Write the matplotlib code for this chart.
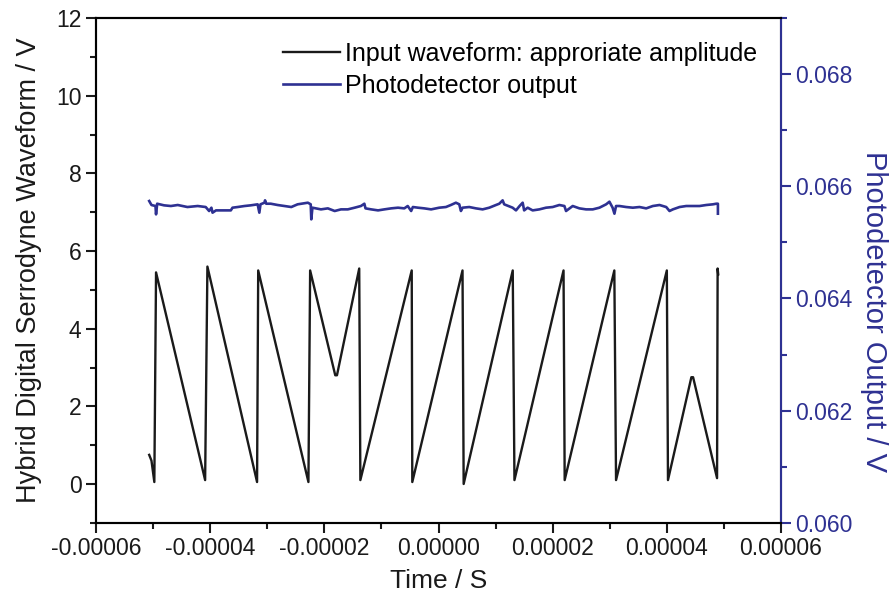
import numpy as np
import matplotlib
matplotlib.use("Agg")
import matplotlib.pyplot as plt
from matplotlib.ticker import MultipleLocator, FormatStrFormatter

plt.rcParams['font.family'] = ['Liberation Sans', 'DejaVu Sans']

# Input waveform vertices (time in microseconds, volts)
wave_t_us = [-50.7, -50.3, -49.8, -49.5, -40.9, -40.5, -31.8, -31.6, -22.8, -22.5,
             -18.1, -17.8, -13.9, -13.7, -4.7, -4.6, 4.2, 4.4, 13.0, 13.3,
             21.9, 22.1, 30.8, 31.1, 40.0, 40.2, 44.3, 44.6, 48.8, 48.9, 49.0]
wave_v = [0.75, 0.6, 0.05, 5.45, 0.1, 5.6, 0.05, 5.5, 0.05, 5.5,
          2.8, 2.8, 5.55, 0.1, 5.5, 0.05, 5.5, 0.0, 5.5, 0.1,
          5.5, 0.1, 5.5, 0.1, 5.5, 0.1, 2.75, 2.75, 0.15, 5.55, 5.4]

# Photodetector output (time in microseconds, volts)
pd_t_us = [-50.7, -50.3, -49.6, -49.5, -49.3, -48.1, -46.9, -45.7, -44.0, -42.2,
           -40.8, -40.2, -39.8, -39.6, -39.0, -38.1, -36.4, -36.1, -35.2, -34.0,
           -32.9, -31.7, -31.4, -31.2, -30.5, -30.4, -30.2, -29.4, -28.2, -27.0,
           -25.8, -24.7, -22.9, -22.4, -22.3, -22.1, -20.6, -19.4, -18.2, -17.1,
           -15.9, -14.7, -13.6, -13.0, -12.8, -11.8, -10.6, -9.5, -8.3, -7.1,
           -6.0, -5.4, -4.8, -4.5, -3.6, -2.5, -1.3, 0.12, 1.29, 2.16,
           3.04, 3.63, 3.92, 4.21, 5.38, 6.55, 7.72, 8.89, 10.06, 10.64,
           11.23, 11.5, 12.98, 13.57, 14.2, 14.74, 15.0, 15.61, 16.49, 17.66,
           18.83, 20.0, 21.17, 22.05, 22.34, 23.51, 24.68, 25.85, 27.02, 28.19,
           29.36, 29.94, 30.5, 30.82, 31.1, 31.7, 32.87, 34.04, 35.21, 36.38,
           37.55, 38.72, 39.89, 40.47, 41.06, 42.23, 43.4, 44.57, 45.74, 46.91,
           48.08, 48.66, 48.95, 48.95]
pd_v = [0.065738, 0.065667, 0.065649, 0.065500, 0.065690, 0.065661, 0.065649, 0.065667, 0.065631, 0.065649,
        0.065631, 0.065560, 0.065619, 0.065530, 0.065571, 0.065571, 0.065571, 0.065619, 0.065631, 0.065649,
        0.065661, 0.065679, 0.065530, 0.065679, 0.065708, 0.065750, 0.065690, 0.065690, 0.065667, 0.065649,
        0.065631, 0.065679, 0.065708, 0.065679, 0.065411, 0.065619, 0.065589, 0.065607, 0.065560, 0.065589,
        0.065589, 0.065619, 0.065649, 0.065690, 0.065607, 0.065589, 0.065571, 0.065589, 0.065607, 0.065619,
        0.065607, 0.065649, 0.065560, 0.065631, 0.065619, 0.065607, 0.065589, 0.065619, 0.065631, 0.065667,
        0.065708, 0.065679, 0.065560, 0.065619, 0.065631, 0.065607, 0.065589, 0.065619, 0.065667, 0.065690,
        0.065750, 0.065679, 0.065619, 0.065571, 0.065649, 0.065708, 0.065571, 0.065619, 0.065571, 0.065589,
        0.065619, 0.065631, 0.065667, 0.065649, 0.065560, 0.065649, 0.065607, 0.065589, 0.065589, 0.065619,
        0.065679, 0.065726, 0.065619, 0.065512, 0.065649, 0.065649, 0.065631, 0.065619, 0.065631, 0.065607,
        0.065649, 0.065667, 0.065631, 0.065560, 0.065589, 0.065631, 0.065649, 0.065649, 0.065649, 0.065667,
        0.065679, 0.065690, 0.065690, 0.065512]

wave_t = np.array(wave_t_us) * 1e-6
pd_t = np.array(pd_t_us) * 1e-6

blue = '#2E3192'
black = '#1a1a1a'

fig = plt.figure(figsize=(8.9, 6.03), dpi=100)
ax1 = fig.add_axes([0.108, 0.133, 0.7695, 0.837])
ax2 = ax1.twinx()

l1, = ax1.plot(wave_t, wave_v, color=black, lw=1.7, label='Input waveform: approriate amplitude')
l2, = ax2.plot(pd_t, pd_v, color=blue, lw=1.9, label='Photodetector output')

ax1.set_xlim(-0.00006, 0.00006)
ax1.set_ylim(-1, 12)
ax2.set_ylim(0.060, 0.069)

ax1.xaxis.set_major_locator(MultipleLocator(0.00002))
ax1.xaxis.set_minor_locator(MultipleLocator(0.00001))
ax1.xaxis.set_major_formatter(FormatStrFormatter('%.5f'))
ax1.yaxis.set_major_locator(MultipleLocator(2))
ax1.yaxis.set_minor_locator(MultipleLocator(1))
ax2.yaxis.set_major_locator(MultipleLocator(0.002))
ax2.yaxis.set_minor_locator(MultipleLocator(0.001))
ax2.yaxis.set_major_formatter(FormatStrFormatter('%.3f'))

for sp in ax1.spines.values():
    sp.set_linewidth(1.5)
    sp.set_color(black)
for sp in ax2.spines.values():
    sp.set_linewidth(1.5)
ax2.spines['right'].set_color(blue)

ax1.tick_params(which='major', direction='out', length=7, width=1.5, labelsize=16.5, colors=black)
ax1.tick_params(which='minor', direction='out', length=4, width=1.5, colors=black)
ax2.tick_params(which='major', direction='out', length=7, width=1.5, labelsize=16.5, colors=blue)
ax2.tick_params(which='minor', direction='out', length=4, width=1.5, colors=blue)

ax1.set_xlabel('Time / S', fontsize=19, labelpad=6, color=black)
ax1.set_ylabel('Hybrid Digital Serrodyne Waveform / V', fontsize=19.5, labelpad=10, color=black)
ax2.set_ylabel('Photodetector Output / V', fontsize=21, color=blue, rotation=270,
               va='center', ha='center')
ax2.yaxis.set_label_coords(1.136, 0.418)

ax2.legend([l1, l2], [l1.get_label(), l2.get_label()], loc='upper left',
           bbox_to_anchor=(0.2545, 0.977), frameon=False, fontsize=18,
           handlelength=2.3, handletextpad=0.2, labelspacing=0.3, borderpad=0)

fig.savefig('out.png', dpi=100)
